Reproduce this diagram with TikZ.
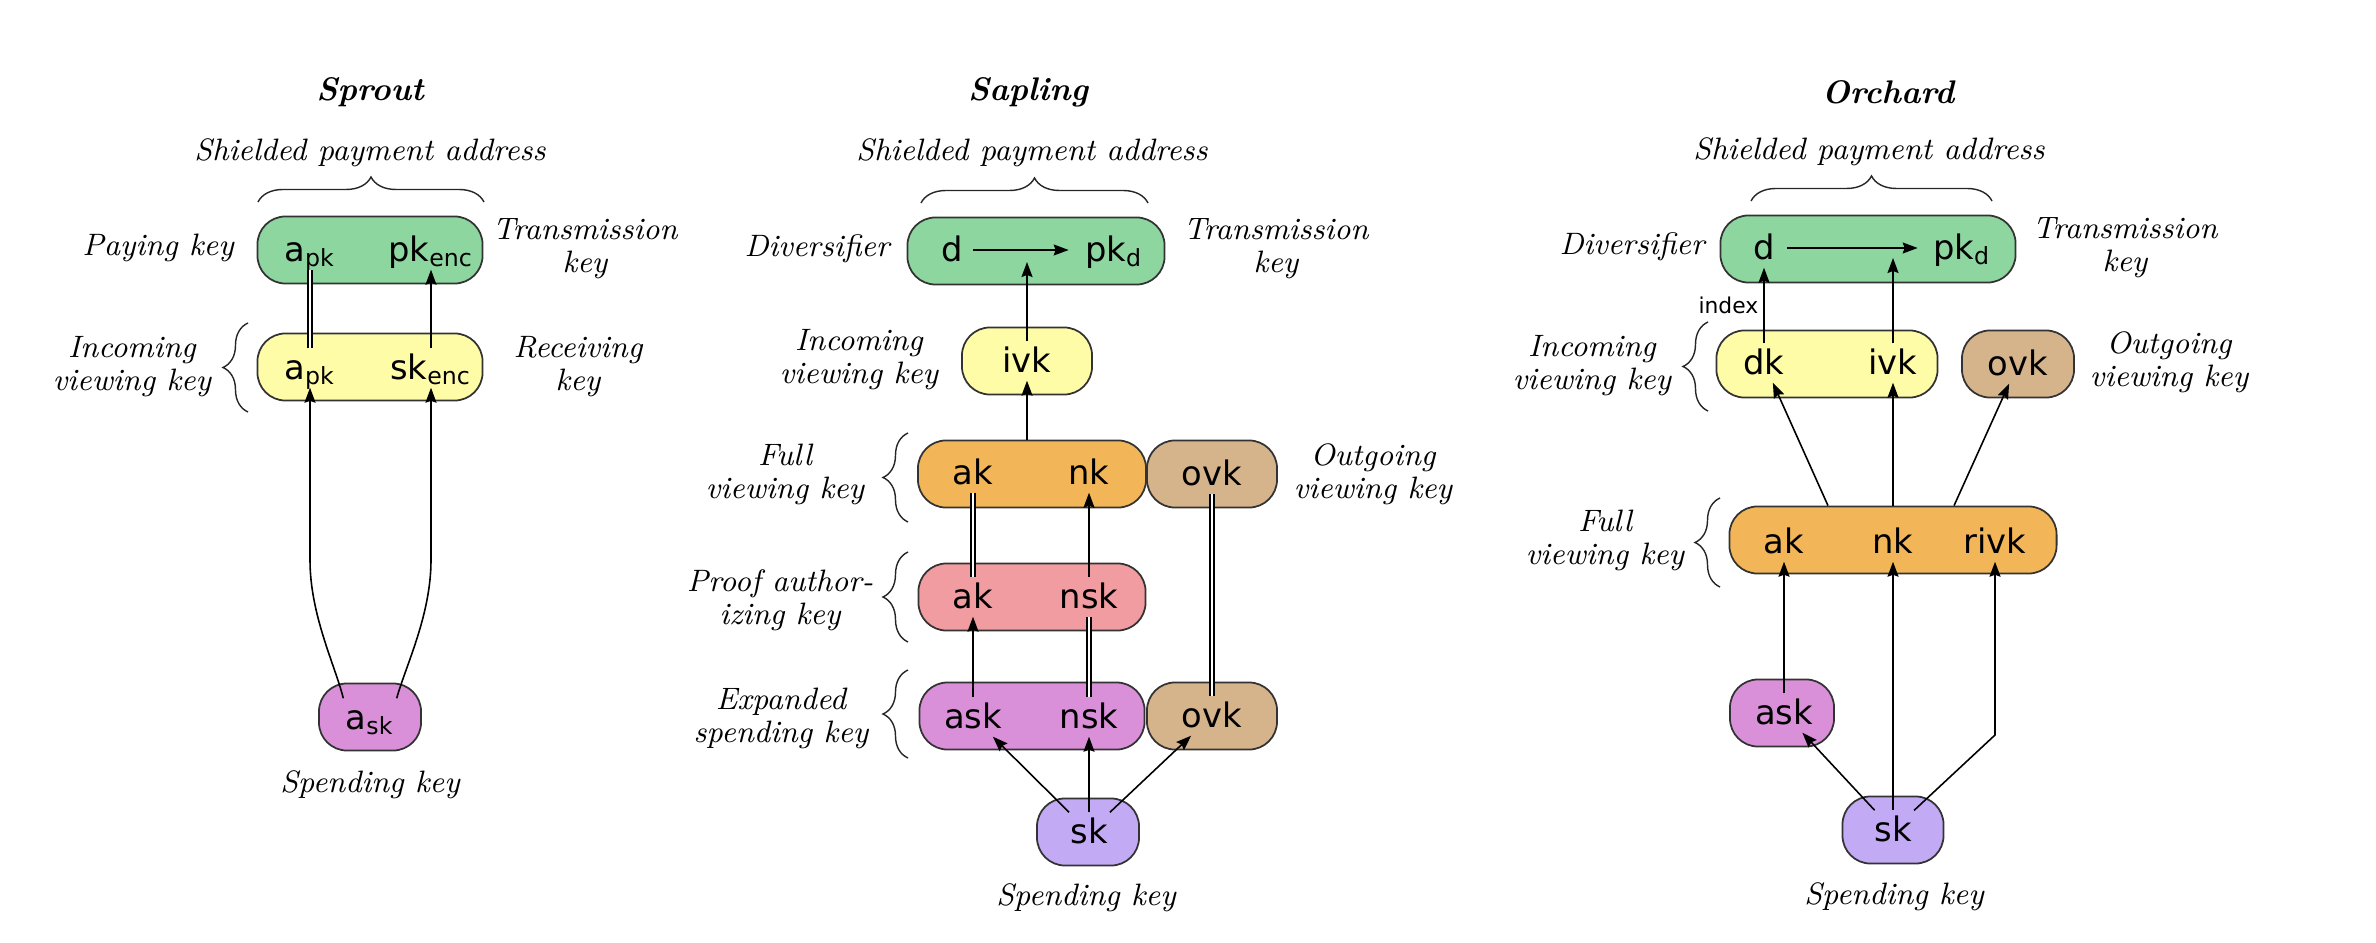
\documentclass[tikz,border=0pt]{standalone}
\usepackage{fontspec}
\setsansfont{DejaVu Sans}
\usetikzlibrary{arrows.meta,decorations.pathreplacing}

\definecolor{addrgreen}{RGB}{141,214,160}
\definecolor{ivkyellow}{RGB}{255,252,168}
\definecolor{fvkorange}{RGB}{242,182,88}
\definecolor{ovktan}{RGB}{213,180,140}
\definecolor{pakpink}{RGB}{240,156,160}
\definecolor{askviolet}{RGB}{217,144,216}
\definecolor{sklavender}{RGB}{195,170,245}

\tikzset{
    keybox/.style={draw=black!80, line width=0.5pt, rounded corners=0.28cm,
        minimum height=0.67cm, inner sep=0pt},
    keyname/.style={font=\fontsize{9.6}{11}\sffamily, inner xsep=0.5pt, inner ysep=0pt,
        text height=0.26cm, text depth=0.04cm, minimum height=0.38cm},
    keylabel/.style={font=\fontsize{8.8}{9.4}\selectfont\itshape, align=center},
    coltitle/.style={font=\fontsize{9.3}{11}\selectfont\bfseries\itshape},
    indexfont/.style={font=\fontsize{6.2}{7}\sffamily, inner sep=0pt},
    derive/.style={-{Stealth[length=0.15cm,width=0.11cm,inset=0.02cm]}, line width=0.45pt},
    samekey/.style={double, double distance=0.025cm, line width=0.4pt},
    groupbrace/.style={decorate, decoration={brace, amplitude=0.25cm}, line width=0.4pt, black!85},
}

\begin{document}
\begin{tikzpicture}[x=0.01cm, y=-0.01cm]
\useasboundingbox (0,0) rectangle (2376,943);

\begin{scope}[name prefix = sprout-]
    \node[coltitle] (title) at (370,92) {Sprout};
    \node[keylabel] (addrlabel) at (370,153) {Shielded payment address};
    \draw[groupbrace] (258,202) -- (484,202);
    \node[keybox, fill=addrgreen, minimum width=2.25cm] (addrbox) at (370,250) {};
    \node[keyname] (apk) at (310,250) {a\textsubscript{pk}};
    \node[keyname] (pkenc) at (431,250) {pk\textsubscript{enc}};
    \node[keylabel] (paylabel) at (158,248) {Paying key};
    \node[keylabel] (translabel) at (585,249) {Transmission\\key};
    \node[keybox, fill=ivkyellow, minimum width=2.25cm] (ivkbox) at (370,367) {};
    \node[keyname] (ivkapk) at (310,368) {a\textsubscript{pk}};
    \node[keyname] (skenc) at (431,368) {sk\textsubscript{enc}};
    \draw[groupbrace] (248,412) -- (248,323);
    \node[keylabel] (ivklabel) at (132,367) {Incoming\\viewing key};
    \node[keylabel] (reclabel) at (578,367) {Receiving\\key};
    \node[keybox, fill=askviolet, minimum width=1.02cm] (askbox) at (370,717) {};
    \node[keyname] (ask) at (370,718) {a\textsubscript{sk}};
    \node[keylabel] (sklabel) at (370,785) {Spending key};
    \draw[samekey] (ivkapk) -- (apk);
    \draw[derive] (skenc) -- (pkenc);
    \draw[derive] (ask.north west) .. controls (335,665) and (310,615) .. (310,560) -- (ivkapk);
    \draw[derive] (ask.north east) .. controls (406,665) and (431,615) .. (431,560) -- (skenc);
\end{scope}

\begin{scope}[name prefix = sapling-]
    \node[coltitle] (title) at (1028,92) {Sapling};
    \node[keylabel] (addrlabel) at (1032,153) {Shielded payment address};
    \draw[groupbrace] (921,203) -- (1148,203);
    \node[keybox, fill=addrgreen, minimum width=2.57cm] (addrbox) at (1036,251) {};
    \node[keyname] (d) at (952,250) {d};
    \node[keyname] (pkd) at (1114,250) {pk\textsubscript{d}};
    \coordinate (mid) at (1027,262);
    \node[keylabel] (divlabel) at (817,249) {Diversifier};
    \node[keylabel] (translabel) at (1276,249) {Transmission\\key};
    \node[keybox, fill=ivkyellow, minimum width=1.30cm] (ivkbox) at (1027,361) {};
    \node[keyname] (ivk) at (1027,361) {ivk};
    \node[keylabel] (ivklabel) at (859,360) {Incoming\\viewing key};
    \node[keybox, fill=fvkorange, minimum width=2.28cm] (fvkbox) at (1032,474) {};
    \node[keyname] (fvkak) at (973,473) {ak};
    \node[keyname] (fvknk) at (1089,473) {nk};
    \node[keybox, fill=ovktan, minimum width=1.30cm] (fvkovkbox) at (1212,474) {};
    \node[keyname] (fvkovk) at (1212,474) {ovk};
    \draw[groupbrace] (908,522) -- (908,433);
    \node[keylabel] (fvklabel) at (785,474) {Full\\viewing key};
    \node[keylabel] (ovklabel) at (1373,474) {Outgoing\\viewing key};
    \node[keybox, fill=pakpink, minimum width=2.27cm] (pakbox) at (1032,597) {};
    \node[keyname] (pakak) at (973,597) {ak};
    \node[keyname] (paknsk) at (1089,597) {nsk};
    \draw[groupbrace] (908,642) -- (908,552);
    \node[keylabel] (paklabel) at (780,600) {Proof author-\\izing key};
    \node[keybox, fill=askviolet, minimum width=2.25cm] (eskbox) at (1032,716) {};
    \node[keyname] (eskask) at (973,717) {ask};
    \node[keyname] (esknsk) at (1089,717) {nsk};
    \node[keybox, fill=ovktan, minimum width=1.30cm] (eskovkbox) at (1212,716) {};
    \node[keyname] (eskovk) at (1212,716) {ovk};
    \draw[groupbrace] (908,758) -- (908,670);
    \node[keylabel] (esklabel) at (781,718) {Expanded\\spending key};
    \node[keybox, fill=sklavender, minimum width=1.02cm] (skbox) at (1088,832) {};
    \node[keyname] (sk) at (1089,832) {sk};
    \node[keylabel] (sklabel) at (1086,898) {Spending key};
    \draw[derive, shorten <=0.08cm, shorten >=0.14cm] (d) -- (pkd);
    \draw[derive] (ivk) -- (mid);
    \draw[derive] (ivk |- fvkbox.north) -- (ivk);
    \draw[samekey] (fvkak) -- (pakak);
    \draw[derive] (paknsk) -- (fvknk);
    \draw[derive] (eskask) -- (pakak);
    \draw[samekey] (esknsk) -- (paknsk);
    \draw[samekey] (eskovk) -- (fvkovk);
    \draw[derive] (sk) -- (eskask);
    \draw[derive] (sk) -- (esknsk);
    \draw[derive] (sk) -- (eskovk);
\end{scope}

\begin{scope}[name prefix = orchard-]
    \node[coltitle] (title) at (1888,92) {Orchard};
    \node[keylabel] (addrlabel) at (1869,152) {Shielded payment address};
    \draw[groupbrace] (1751,201) -- (1992,201);
    \node[keybox, fill=addrgreen, minimum width=2.95cm] (addrbox) at (1868,249) {};
    \node[keyname] (d) at (1764,248) {d};
    \node[keyname] (pkd) at (1962,248) {pk\textsubscript{d}};
    \coordinate (mid) at (1893,258);
    \node[keylabel] (divlabel) at (1632,247) {Diversifier};
    \node[keylabel] (translabel) at (2125,248) {Transmission\\key};
    \node[keybox, fill=ivkyellow, minimum width=2.21cm] (ivkbox) at (1827,364) {};
    \node[keyname] (dk) at (1764,363) {dk};
    \node[keyname] (ivk) at (1893,363) {ivk};
    \node[keybox, fill=ovktan, minimum width=1.12cm] (ovkbox) at (2018,364) {};
    \node[keyname] (ovk) at (2018,364) {ovk};
    \draw[groupbrace] (1708,411) -- (1708,322);
    \node[keylabel] (ivklabel) at (1592,366) {Incoming\\viewing key};
    \node[keylabel] (ovklabel) at (2169,362) {Outgoing\\viewing key};
    \node[keybox, fill=fvkorange, minimum width=3.27cm] (fvkbox) at (1893,540) {};
    \node[keyname] (fvkak) at (1784,542) {ak};
    \node[keyname] (fvknk) at (1893,542) {nk};
    \node[keyname] (rivk) at (1995,542) {rivk};
    \draw[groupbrace] (1720,587) -- (1720,498);
    \node[keylabel] (fvklabel) at (1605,540) {Full\\viewing key};
    \node[keybox, fill=askviolet, minimum width=1.04cm] (askbox) at (1782,713) {};
    \node[keyname] (ask) at (1784,713) {ask};
    \node[keybox, fill=sklavender, minimum width=1.01cm] (skbox) at (1893,830) {};
    \node[keyname] (sk) at (1893,830) {sk};
    \coordinate (bend) at (1995,735);
    \node[keylabel] (sklabel) at (1894,897) {Spending key};
    \draw[derive, shorten <=0.1cm, shorten >=0.13cm] (d) -- (pkd);
    \draw[derive] (dk) -- node[left=0.05cm, indexfont] {index} (d);
    \draw[derive] (ivk) -- (mid);
    \draw[derive] ([xshift=-0.65cm]fvkbox.north) -- (dk);
    \draw[derive] (ivk |- fvkbox.north) -- (ivk);
    \draw[derive] ([xshift=0.61cm]fvkbox.north) -- (ovk);
    \draw[derive] (ask) -- (fvkak);
    \draw[derive] (sk) -- (fvknk);
    \draw[derive] (sk) -- (ask);
    \draw[derive] (sk) -- (bend) -- (rivk);
\end{scope}

\end{tikzpicture}
\end{document}
